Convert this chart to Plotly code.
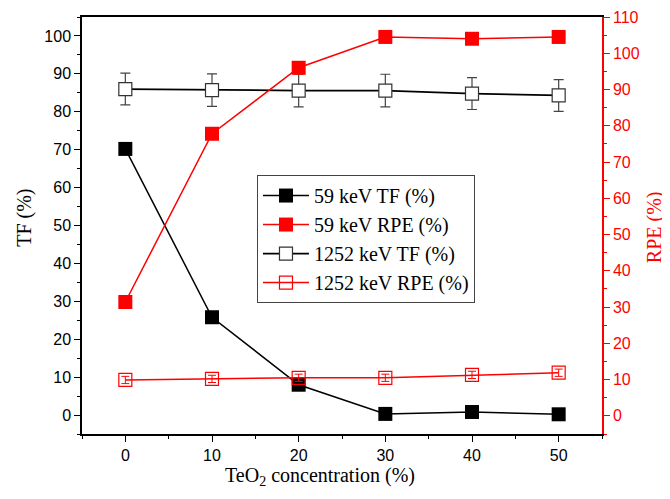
import plotly.graph_objects as go

conc = [0, 10, 20, 30, 40, 50]
tf_59 = [70.2, 25.8, 8.0, 0.3, 0.8, 0.2]
rpe_59 = [31.4, 77.8, 96.0, 104.5, 104.0, 104.5]
tf_1252 = [86.0, 85.7, 85.6, 85.6, 84.8, 84.3]
tf_1252_err = [4.2, 4.3, 4.3, 4.3, 4.2, 4.2]
rpe_1252 = [9.9, 10.2, 10.5, 10.5, 11.3, 11.9]
rpe_1252_err = [1.0, 1.0, 1.0, 1.0, 1.0, 1.0]

x_ticks = [0, 10, 20, 30, 40, 50]
left_ticks = list(range(0, 101, 10))
right_ticks = list(range(0, 111, 10))

SERIF = "Liberation Serif, Times New Roman, serif"
SANS = "Liberation Sans, Arial, sans-serif"
RED = "#ff0000"

fig = go.Figure()

fig.add_trace(go.Scatter(
    x=conc, y=tf_59, name="59 keV TF (%)", mode="lines+markers",
    line=dict(color="black", width=1.5),
    marker=dict(symbol="square", size=14, color="black"),
    yaxis="y"))

fig.add_trace(go.Scatter(
    x=conc, y=rpe_59, name="59 keV RPE (%)", mode="lines+markers",
    line=dict(color=RED, width=1.5),
    marker=dict(symbol="square", size=14, color=RED),
    yaxis="y2"))

fig.add_trace(go.Scatter(
    x=conc, y=tf_1252, name="1252 keV TF (%)", mode="lines+markers",
    line=dict(color="black", width=1.8),
    marker=dict(symbol="square", size=13, color="white",
                line=dict(color="#333333", width=1.2)),
    error_y=dict(type="data", array=tf_1252_err, visible=True,
                 color="#444444", thickness=1.2, width=5),
    yaxis="y"))

fig.add_trace(go.Scatter(
    x=conc, y=rpe_1252, name="1252 keV RPE (%)", mode="lines+markers",
    line=dict(color=RED, width=1.5),
    marker=dict(symbol="square-open", size=13, color=RED,
                line=dict(color=RED, width=1.2)),
    error_y=dict(type="data", array=rpe_1252_err, visible=True,
                 color=RED, thickness=1, width=4),
    yaxis="y2"))

axis_common = dict(
    showgrid=False, zeroline=False, showline=True, linewidth=1.5,
    ticks="outside", ticklen=6, tickwidth=1.2, automargin=False,
)

# The page body adds an 8px offset, so the figure is drawn 8px smaller.
fig.update_layout(
    width=662, height=491,
    paper_bgcolor="white", plot_bgcolor="white",
    margin=dict(l=74, r=68, t=9, b=65),
    showlegend=True,
    legend=dict(
        x=0.3365, y=0.621, xanchor="left", yanchor="top",
        bgcolor="white", bordercolor="#444444", borderwidth=1,
        font=dict(family=SERIF, size=20, color="black"),
        itemwidth=46, tracegroupgap=0,
    ),
    xaxis=dict(
        range=[-5, 55], tickvals=x_ticks, linecolor="black", tickcolor="black",
        mirror=True,
        minor=dict(dtick=5, tick0=-5, ticks="outside", ticklen=3, tickcolor="black"),
        tickfont=dict(family=SANS, size=16, color="black"),
        **axis_common,
    ),
    yaxis=dict(
        range=[-5, 105], tickvals=left_ticks, linecolor="black", tickcolor="black",
        minor=dict(dtick=5, tick0=0, ticks="outside", ticklen=3, tickcolor="black"),
        tickfont=dict(family=SANS, size=16, color="black"),
        **axis_common,
    ),
    yaxis2=dict(
        range=[-5, 110], tickvals=right_ticks, overlaying="y", side="right",
        linecolor=RED, tickcolor=RED,
        minor=dict(dtick=5, tick0=0, ticks="outside", ticklen=3, tickcolor=RED),
        tickfont=dict(family=SANS, size=16, color=RED),
        **axis_common,
    ),
    annotations=[
        dict(text="TF (%)", x=-0.11, y=0.518, xref="paper", yref="paper",
             textangle=-90, showarrow=False, xanchor="center", yanchor="middle",
             font=dict(family=SERIF, size=20, color="black")),
        dict(text="RPE (%)", x=1.1, y=0.496, xref="paper", yref="paper",
             textangle=-90, showarrow=False, xanchor="center", yanchor="middle",
             font=dict(family=SERIF, size=20, color=RED)),
        dict(text="TeO<sub>2</sub> concentration (%)", x=0.458, y=-0.102,
             xref="paper", yref="paper", showarrow=False,
             xanchor="center", yanchor="middle",
             font=dict(family=SERIF, size=20, color="black")),
    ],
)

fig.write_html("out.html")
